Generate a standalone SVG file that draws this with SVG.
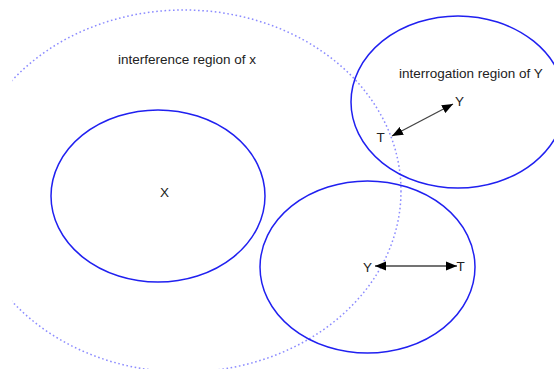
<svg xmlns="http://www.w3.org/2000/svg" width="554" height="369" viewBox="0 0 554 369">
<style>
.reg{fill:none;stroke:#2020f0;stroke-width:1.5}
.dot{fill:none;stroke:#8c8cff;stroke-width:1.5;stroke-dasharray:1.6 2.6}
.lbl{font-family:"Liberation Sans",Arial,sans-serif;font-size:13.5px;fill:#222}
.arr{stroke:#444;stroke-width:1.3;fill:none;marker-start:url(#ah);marker-end:url(#ah)}
</style>
<defs>
<marker id="ah" markerUnits="userSpaceOnUse" markerWidth="12" markerHeight="10" refX="11" refY="5" orient="auto-start-reverse">
<path d="M0,0.5 L11,5 L0,9.5 Z" fill="#000"/>
</marker>
<clipPath id="clipL"><rect x="12.5" y="0" width="554" height="369"/></clipPath>
</defs>
<rect width="554" height="369" fill="#fff"/>
<g id="interference">
<ellipse class="dot" cx="184" cy="191" rx="217" ry="181" clip-path="url(#clipL)"/>
<text class="lbl" x="118" y="64">interference region of x</text>
</g>
<g id="nodeX">
<ellipse class="reg" cx="158" cy="196" rx="107" ry="86"/>
<text class="lbl" x="160" y="197">X</text>
</g>
<g id="interrogation">
<ellipse class="reg" cx="458" cy="102" rx="107" ry="86"/>
<text class="lbl" x="399" y="78">interrogation region of Y</text>
<text class="lbl" x="455" y="106">Y</text>
<text class="lbl" x="376.5" y="142">T</text>
</g>
<g id="nodeBottom">
<ellipse class="reg" cx="367.5" cy="267" rx="107.5" ry="86"/>
<text class="lbl" x="363" y="271.5">Y</text>
<text class="lbl" x="456.5" y="271">T</text>
</g>
<g id="connectors">
<line class="arr" x1="392" y1="136" x2="453" y2="104"/>
<line class="arr" x1="375" y1="266" x2="457" y2="266"/>
</g>
</svg>
